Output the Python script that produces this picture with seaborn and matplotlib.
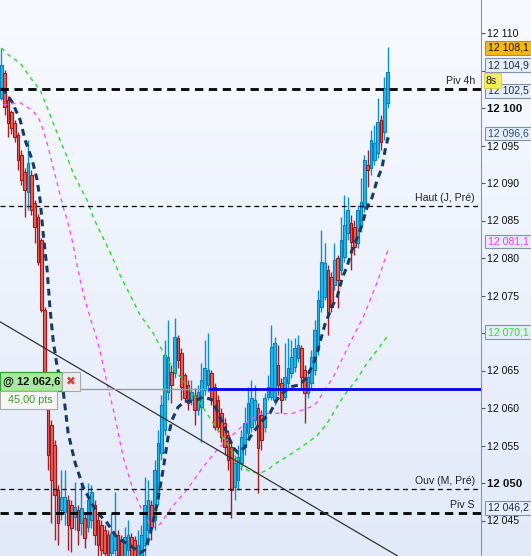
"""Intraday candlestick chart with moving averages, pivot levels and an order line."""
import numpy as np
import pandas as pd
import matplotlib
matplotlib.use("Agg")
import matplotlib.pyplot as plt
import matplotlib.patches as mpatches
import matplotlib.transforms as mtrans
from matplotlib.colors import LinearSegmentedColormap
import seaborn as sns

sns.set_style("white")
plt.rcParams["font.family"] = ["Liberation Sans", "DejaVu Sans"]

# ── data ──────────────────────────────────────────────────────────────────────
opens = [
    12101.3, 12104.7, 12101.1, 12099.5, 12098.0, 12096.4, 12093.7, 12091.5, 12088.8, 12091.1,
    12087.3, 12085.5, 12082.4, 12073.1, 12061.7, 12057.7, 12055.1, 12049.1, 12046.4, 12046.1,
    12047.7, 12047.1, 12045.5, 12046.4, 12044.7, 12045.3, 12044.1, 12045.1, 12047.1, 12045.1,
    12044.4, 12043.7, 12043.1, 12040.7, 12041.1, 12043.1, 12042.4, 12040.3, 12041.1, 12042.8,
    12042.4, 12039.1, 12039.7, 12041.7, 12043.7, 12047.1, 12045.1, 12048.1, 12054.0, 12057.1,
    12062.1, 12064.8, 12064.7, 12069.3, 12067.3, 12064.4, 12063.1, 12061.1, 12061.7, 12059.7,
    12060.1, 12062.4, 12063.1, 12064.7, 12062.8, 12061.1, 12059.3, 12058.0, 12056.4, 12054.8,
    12049.5, 12050.4, 12052.7, 12054.8, 12056.7, 12057.5, 12058.4, 12060.0, 12059.1, 12057.5,
    12061.5, 12061.5, 12061.1, 12065.7, 12063.3, 12061.5, 12063.3, 12064.7, 12065.5, 12066.7,
    12068.0, 12065.1, 12062.0, 12063.3, 12065.1, 12067.7, 12073.5, 12074.8, 12078.4, 12077.5,
    12076.4, 12080.0, 12078.4, 12080.1, 12083.3, 12084.7, 12084.1, 12082.0, 12084.1, 12086.8,
    12092.4, 12092.0, 12093.1, 12094.0, 12098.4, 12096.8, 12100.7]
highs = [
    12108.0, 12105.1, 12101.6, 12099.7, 12098.4, 12096.8, 12094.4, 12092.0, 12095.7, 12091.7,
    12087.7, 12085.9, 12082.7, 12073.5, 12062.4, 12058.4, 12055.7, 12049.7, 12051.7, 12051.7,
    12048.4, 12047.7, 12050.1, 12047.1, 12050.0, 12046.1, 12050.0, 12049.7, 12047.7, 12045.7,
    12045.1, 12044.4, 12043.7, 12046.0, 12048.8, 12043.7, 12043.1, 12044.1, 12045.1, 12043.3,
    12042.9, 12043.7, 12044.4, 12050.8, 12050.4, 12047.7, 12053.1, 12057.1, 12061.7, 12069.1,
    12071.7, 12065.7, 12072.0, 12069.7, 12068.0, 12064.7, 12063.7, 12063.7, 12062.7, 12063.1,
    12066.0, 12069.1, 12070.0, 12065.1, 12063.3, 12061.7, 12060.0, 12058.7, 12057.1, 12055.7,
    12053.7, 12055.1, 12057.1, 12060.1, 12062.8, 12063.7, 12063.1, 12060.7, 12059.7, 12062.0,
    12064.4, 12071.1, 12069.5, 12068.4, 12064.0, 12068.7, 12069.3, 12069.1, 12069.3, 12069.7,
    12068.4, 12065.7, 12065.1, 12067.7, 12071.7, 12075.7, 12083.7, 12082.0, 12079.1, 12078.1,
    12082.0, 12080.4, 12085.5, 12088.4, 12088.1, 12085.7, 12085.1, 12087.1, 12090.7, 12093.7,
    12094.4, 12097.1, 12097.7, 12101.3, 12099.1, 12104.1, 12108.1]
lows = [
    12101.1, 12099.1, 12096.1, 12096.5, 12095.5, 12091.7, 12089.7, 12085.5, 12086.4, 12085.7,
    12082.0, 12079.1, 12072.8, 12060.4, 12051.7, 12044.7, 12042.4, 12041.7, 12045.1, 12044.4,
    12041.1, 12040.8, 12043.7, 12041.7, 12043.1, 12041.3, 12043.5, 12044.0, 12041.7, 12040.3,
    12039.7, 12039.1, 12038.4, 12039.7, 12040.3, 12039.1, 12038.4, 12039.1, 12039.7, 12038.4,
    12037.7, 12037.7, 12038.4, 12040.3, 12041.7, 12042.4, 12043.7, 12047.1, 12053.1, 12056.4,
    12061.1, 12060.7, 12064.0, 12065.3, 12061.1, 12060.8, 12059.7, 12060.4, 12057.7, 12059.1,
    12055.5, 12061.7, 12062.1, 12060.4, 12057.1, 12056.8, 12055.5, 12053.7, 12051.7, 12045.3,
    12047.7, 12049.1, 12051.7, 12053.7, 12055.7, 12056.8, 12057.7, 12048.7, 12054.4, 12056.8,
    12061.1, 12061.1, 12060.4, 12061.7, 12059.3, 12061.1, 12062.7, 12064.0, 12064.8, 12066.1,
    12062.7, 12058.0, 12061.3, 12062.7, 12064.4, 12067.1, 12072.8, 12074.4, 12069.7, 12072.8,
    12075.7, 12073.3, 12077.7, 12079.5, 12082.4, 12078.4, 12080.4, 12081.3, 12083.5, 12086.1,
    12089.5, 12091.1, 12092.4, 12093.3, 12094.4, 12095.7, 12100.0]
closes = [
    12105.7, 12100.1, 12098.0, 12097.3, 12096.1, 12093.1, 12090.4, 12089.1, 12092.7, 12086.4,
    12084.1, 12079.5, 12073.1, 12061.1, 12053.7, 12050.4, 12048.4, 12044.7, 12048.1, 12048.1,
    12044.4, 12044.0, 12046.8, 12043.7, 12046.7, 12042.7, 12047.7, 12048.8, 12043.1, 12041.7,
    12041.1, 12040.7, 12039.7, 12043.3, 12043.1, 12040.4, 12039.7, 12042.8, 12043.1, 12039.7,
    12039.1, 12041.7, 12043.1, 12047.1, 12047.7, 12044.1, 12051.7, 12055.3, 12060.4, 12067.1,
    12066.8, 12063.1, 12069.5, 12066.4, 12062.8, 12061.3, 12060.7, 12062.1, 12059.7, 12062.1,
    12063.7, 12065.3, 12065.1, 12061.1, 12057.5, 12057.5, 12056.1, 12054.8, 12053.1, 12049.1,
    12052.7, 12053.5, 12056.1, 12058.0, 12060.7, 12061.3, 12061.1, 12054.7, 12055.7, 12061.3,
    12062.8, 12068.1, 12068.7, 12063.1, 12061.1, 12064.1, 12065.3, 12066.8, 12068.0, 12068.4,
    12064.1, 12062.0, 12064.1, 12066.8, 12070.4, 12074.4, 12079.5, 12079.3, 12072.7, 12073.5,
    12079.7, 12077.1, 12082.4, 12084.4, 12086.4, 12082.1, 12081.5, 12086.4, 12087.5, 12093.1,
    12091.7, 12095.7, 12095.3, 12098.1, 12095.5, 12102.7, 12104.8]

# moving averages, sampled at bar positions
ma_fast_bar = [0.2, 3.2, 5.6, 7.1, 9.2, 10.7, 11.6, 12.5, 13.7, 14.6, 15.5, 16.7, 18.5, 20.0,
               22.1, 24.5, 26.6, 28.7, 31.7, 34.7, 38.6, 41.6, 43.1, 44.6, 46.7, 48.5, 50.0,
               51.2, 53.0, 55.1, 58.1, 60.5, 63.2, 65.6, 67.7, 69.5, 71.0, 73.1, 74.6, 77.6,
               80.6, 82.7, 84.5, 86.6, 89.6, 91.7, 94.1, 95.6, 97.1, 99.2, 100.8, 102.3, 103.8,
               105.3, 106.8, 108.3, 109.8, 111.3, 112.8, 114.3, 115.2, 116.1]
ma_fast = [12102.7, 12100.8, 12098.4, 12095.7, 12093.1, 12090.4, 12087.7, 12083.3, 12078.4,
           12073.1, 12069.1, 12065.5, 12062.4, 12056.7, 12052.7, 12049.5, 12047.7, 12046.1,
           12044.7, 12042.7, 12041.7, 12040.7, 12041.1, 12043.1, 12047.1, 12051.7, 12056.1,
           12058.4, 12060.1, 12060.9, 12060.9, 12061.5, 12061.1, 12058.8, 12056.7, 12054.8,
           12054.0, 12054.8, 12056.1, 12058.0, 12059.3, 12061.1, 12062.0, 12062.8, 12063.1,
           12064.1, 12066.4, 12068.7, 12071.1, 12073.5, 12074.8, 12077.3, 12078.9, 12081.1,
           12082.7, 12084.5, 12086.8, 12088.1, 12090.4, 12092.1, 12094.4, 12096.1]

ma_mid_bar = [0.5, 5.6, 9.2, 11.0, 12.5, 14.0, 15.5, 17.0, 18.5, 19.7, 21.2, 23.0, 24.5, 26.6,
              28.7, 29.6, 31.7, 34.1, 36.5, 39.5, 42.5, 45.5, 47.6, 51.2, 55.7, 60.5, 64.7,
              68.6, 71.6, 74.6, 77.6, 80.6, 83.6, 86.6, 89.6, 92.6, 94.7, 96.5, 99.6, 102.6,
              105.6, 108.6, 110.7, 113.1, 116.1]
ma_mid = [12100.4, 12100.7, 12099.7, 12098.8, 12097.1, 12094.8, 12092.1, 12089.5, 12086.8,
          12085.1, 12082.4, 12078.4, 12075.3, 12072.1, 12069.1, 12067.5, 12063.3, 12058.8,
          12053.5, 12049.1, 12046.0, 12044.0, 12044.5, 12046.8, 12049.1, 12052.1, 12054.4,
          12056.1, 12057.3, 12058.4, 12059.2, 12059.3, 12059.3, 12059.2, 12059.6, 12060.1,
          12060.7, 12062.0, 12064.1, 12066.8, 12069.5, 12072.1, 12074.4, 12077.1, 12081.1]

ma_slow_bar = [0.0, 2.0, 5.6, 8.6, 11.6, 13.7, 15.5, 17.6, 19.7, 21.5, 23.6, 25.7, 27.5, 29.6,
               32.6, 35.6, 38.6, 41.6, 45.5, 48.5, 51.2, 54.5, 59.6, 63.5, 66.5, 69.5, 72.5,
               74.6, 77.6, 79.7, 82.7, 85.7, 88.7, 91.7, 94.7, 97.7, 102.6, 106.8, 109.8,
               112.8, 116.1]
ma_slow = [12108.0, 12107.1, 12106.0, 12104.1, 12102.4, 12100.1, 12098.0, 12095.7, 12093.5,
           12091.3, 12089.5, 12087.7, 12085.5, 12083.5, 12080.8, 12077.7, 12075.1, 12072.4,
           12070.0, 12067.5, 12065.5, 12063.7, 12060.7, 12058.0, 12056.1, 12054.0, 12052.1,
           12051.5, 12051.3, 12051.7, 12052.7, 12053.5, 12054.4, 12055.3, 12056.3, 12057.9,
           12061.5, 12063.9, 12066.0, 12067.7, 12069.7]

# horizontal levels
level_names = ["Piv 4h", "Haut (J, Pré)", "Ouv (M, Pré)", "Piv S"]
level_vals = [12102.5, 12086.9, 12049.2, 12046.0]
level_thick = [True, False, False, True]

# trend line anchors (bar, price)
trend_a = (-0.45, 12071.5)
trend_b = (117.3, 12040.7)

# order
order_price = 12062.6
order_bar = 62
order_pts = 45.00

# price tags on the right scale
tag_vals = [12108.1, 12104.9, 12102.5, 12096.6, 12081.1, 12070.1, 12046.2]
tag_pos = [12108.0, 12105.7, 12102.3, 12096.6, 12082.2, 12070.1, 12046.7]
tag_text_col = ["#111111", "#1c2c4c", "#1c2c4c", "#2b4f78", "#ff30ff", "#2ee02e", "#1c2c4c"]
tag_fill = ["#f5b90f"] + ["#e6edf7"] * 6

yticks = list(range(12045, 12111, 5))
hidden_ticks = [12105, 12070]   # covered by price tags
W, H = 531, 556
PLOT_W = 481


def fmt_price(v, dec=1):
    s = f"{v:,.{dec}f}"
    return s.replace(",", " ").replace(".", ",")


# ── figure ────────────────────────────────────────────────────────────────────
fig = plt.figure(figsize=(W / 100, H / 100), dpi=100)

bg = fig.add_axes([0, 0, 1, 1], zorder=-5)
grad = np.linspace(0, 1, 256).reshape(-1, 1)
bg.imshow(grad, aspect="auto", extent=(0, 1, 0, 1),
          cmap=LinearSegmentedColormap.from_list("bg", ["#f8faff", "#e2e9f8"]))
bg.set_axis_off()

ax = fig.add_axes([0, 0, PLOT_W / W, 1])
ax.set_facecolor("none")

df = pd.DataFrame({"open": opens, "high": highs, "low": lows, "close": closes})
df["bar"] = np.arange(len(df))
up = df["close"] >= df["open"]

# wicks
ax.vlines(df.loc[up, "bar"], df.loc[up, "low"], df.loc[up, "high"], color="#0a8fd0", lw=1.0, zorder=2)
ax.vlines(df.loc[~up, "bar"], df.loc[~up, "low"], df.loc[~up, "high"], color="#a52020", lw=1.0, zorder=2)
# bodies
ax.bar(df.loc[up, "bar"], df.loc[up, "close"] - df.loc[up, "open"], bottom=df.loc[up, "open"],
       width=0.8, color="#25b8e8", edgecolor="#0a7fb8", linewidth=0.8, zorder=3)
ax.bar(df.loc[~up, "bar"], df.loc[~up, "close"] - df.loc[~up, "open"], bottom=df.loc[~up, "open"],
       width=0.8, color="#e8625c", edgecolor="#9e1a1a", linewidth=0.8, zorder=3)

# moving averages
sns.lineplot(x=ma_slow_bar, y=ma_slow, ax=ax, color="#22e022", linewidth=1.0,
             linestyle=(0, (3, 3)), zorder=4)
sns.lineplot(x=ma_mid_bar, y=ma_mid, ax=ax, color="#ff4cff", linewidth=1.0,
             linestyle=(0, (3, 3)), zorder=4)
sns.lineplot(x=ma_fast_bar, y=ma_fast, ax=ax, color="#173a66", linewidth=2.2,
             linestyle=(0, (2.2, 1.6)), zorder=5)

# levels
yax = ax.get_yaxis_transform()
for name, val, thick in zip(level_names, level_vals, level_thick):
    if thick:
        ax.axhline(val, color="black", lw=2.0, linestyle=(0, (3, 2)), zorder=6)
    else:
        ax.axhline(val, color="black", lw=0.9, linestyle=(0, (4, 3)), zorder=6)
    ax.text(475 / PLOT_W, val + 0.45, name, transform=yax, ha="right", va="bottom",
            fontsize=7.6, color="#222222", zorder=7)

# trend line
ax.axline(trend_a, trend_b, color="#333333", lw=0.9, zorder=6)

# order line: grey before the order bar, blue after
ax.hlines(order_price, -0.45, order_bar, color="#9a9a9a", lw=1.0, zorder=6)
ax.hlines(order_price, order_bar, 150, color="#0000ee", lw=2.0, zorder=6)

ax.set_xlim(-0.45, (PLOT_W - 1.5) / 3.33)
ax.set_ylim(12114.4 - H / 7.5, 12114.4)

# right price scale
ax.yaxis.tick_right()
ax.set_yticks(yticks)
ax.set_yticklabels(["" if v in hidden_ticks else fmt_price(v, 0) for v in yticks])
ax.tick_params(axis="y", length=3, width=0.8, color="#555555", pad=1.5,
               labelsize=7.6, labelcolor="#111111")
for lab, v in zip(ax.get_yticklabels(), yticks):
    if v in (12100, 12050):
        lab.set_fontweight("bold")
        lab.set_fontsize(8.2)
ax.set_xticks([])
for s in ["top", "left", "bottom"]:
    ax.spines[s].set_visible(False)
ax.spines["right"].set_color("#8797aa")
ax.spines["right"].set_linewidth(0.8)

# price tags
blend = mtrans.blended_transform_factory(fig.transFigure, ax.transData)
for v, p, tc, fc in zip(tag_vals, tag_pos, tag_text_col, tag_fill):
    fig.add_artist(mpatches.Rectangle((485 / W, p - 0.93), 50 / W, 1.86, transform=blend,
                                      facecolor=fc, edgecolor="#7f93ab", lw=0.8, zorder=3))
    fig.text(487.5 / W, p, fmt_price(v), transform=blend, ha="left", va="center",
             fontsize=7.6, color=tc, zorder=4)
# countdown tag
fig.add_artist(mpatches.Rectangle((484 / W, 12102.6), 17 / W, 2.1, transform=blend,
                                  facecolor="#f3ec5c", edgecolor="#d8cf40", lw=0.6, zorder=5))
fig.text(486 / W, 12103.65, "8s", transform=blend, ha="left", va="center",
         fontsize=7.6, color="#222222", zorder=6)

# order tags on the left
def fpx(x, y):
    return x / W, 1 - y / H

fig.add_artist(mpatches.Rectangle(fpx(0, 391), 62 / W, 19 / H, transform=fig.transFigure,
                                  facecolor="#a6eb9c", edgecolor="#33a033", lw=0.9, zorder=8))
fig.text(*fpx(3, 381.5), "@ " + fmt_price(order_price), ha="left", va="center",
         fontsize=8, fontweight="bold", color="#111111", zorder=9)
fig.add_artist(mpatches.Rectangle(fpx(62, 391), 18 / W, 19 / H, transform=fig.transFigure,
                                  facecolor="#ececec", edgecolor="#a8a8a8", lw=0.8, zorder=8))
fig.text(*fpx(71, 381.5), "✖", ha="center", va="center", fontsize=8.5,
         color="#e03a3a", family=["DejaVu Sans"], zorder=9)
fig.add_artist(mpatches.Rectangle(fpx(0, 409), 57 / W, 18 / H, transform=fig.transFigure,
                                  facecolor="#f6f6f6", edgecolor="#a8a8a8", lw=0.8, zorder=8))
fig.text(*fpx(30, 400), fmt_price(order_pts, 2) + " pts", ha="center", va="center",
         fontsize=7.8, color="#3a9a18", zorder=9)

fig.savefig("out.png", dpi=100)
plt.close(fig)
